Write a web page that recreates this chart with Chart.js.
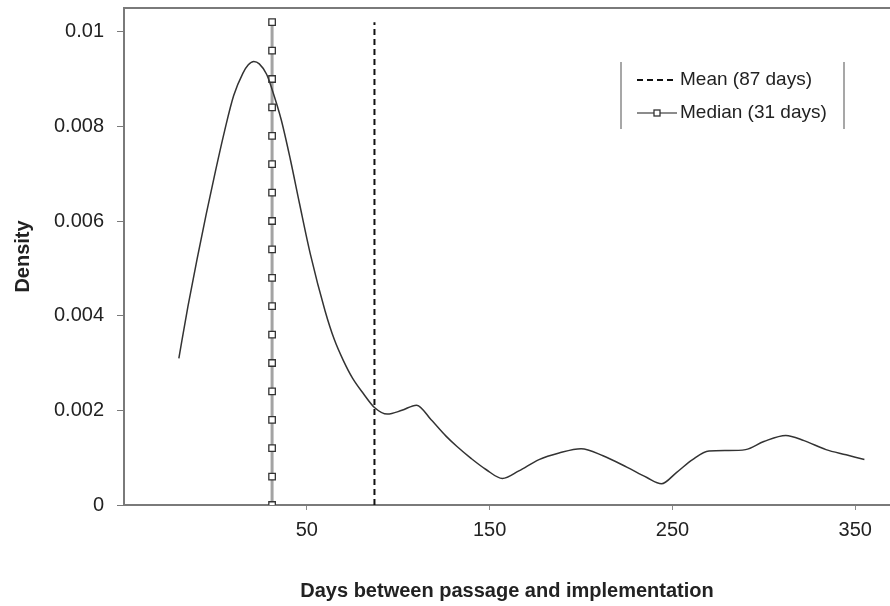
<!DOCTYPE html>
<html>
<head>
<meta charset="utf-8">
<script src="https://cdn.jsdelivr.net/npm/chart.js@4.4.1/dist/chart.umd.min.js"></script>
<style>
  body { margin: 0; background: #fff; overflow: hidden; }
  #wrap { width: 890px; height: 606px; position: relative; }
</style>
</head>
<body>
<div id="wrap"><canvas id="myChart"></canvas></div>
<script>
// density curve
const days = [-20, -15, -10, -5, 0, 5, 10, 15, 18, 21, 24, 28, 31, 36, 41, 46, 52, 60, 65, 70, 75, 81, 87, 94, 102, 110, 118, 126, 132, 140, 148, 157, 166, 177, 188, 200, 212, 225, 236, 244, 252, 261, 270, 280, 290, 300, 312, 322, 334, 345, 355];
const density = [0.0031, 0.0042, 0.0052, 0.00615, 0.00705, 0.0079, 0.00865, 0.00912, 0.0093, 0.00937, 0.00932, 0.0091, 0.00878, 0.00814, 0.0073, 0.00637, 0.00529, 0.0041, 0.0035, 0.00305, 0.00268, 0.00235, 0.00206, 0.00192, 0.002, 0.00211, 0.0018, 0.00146, 0.00124, 0.00098, 0.00075, 0.00056, 0.00072, 0.00096, 0.0011, 0.00119, 0.00104, 0.0008, 0.00058, 0.00045, 0.00068, 0.00096, 0.00114, 0.00115, 0.00117, 0.00134, 0.00147, 0.00136, 0.00117, 0.00106, 0.00096];

const xTicks = [50, 150, 250, 350];
const yTicks = [0, 0.002, 0.004, 0.006, 0.008, 0.01];
const yTickLabels = ['0', '0.002', '0.004', '0.006', '0.008', '0.01'];

const meanDay = 87;
const medianDay = 31;
const meanLine = [0, 0.0102];
const medianMarks = [0, 0.0006, 0.0012, 0.0018, 0.0024, 0.003, 0.0036, 0.0042, 0.0048, 0.0054, 0.006, 0.0066, 0.0072, 0.0078, 0.0084, 0.009, 0.0096, 0.0102];

const legendLabels = ['Mean (87 days)', 'Median (31 days)'];

const FONT = "'Liberation Sans', Arial, sans-serif";

// top border + legend box
const extras = {
  id: 'extras',
  afterDraw(chart) {
    const c = chart.ctx;
    const a = chart.chartArea;
    c.save();
    c.strokeStyle = '#7a7a7a';
    c.lineWidth = 2;
    c.beginPath();
    c.moveTo(a.left - 1, a.top);
    c.lineTo(a.right, a.top);
    c.stroke();

    // legend frame (only sides)
    c.strokeStyle = '#8a8a8a';
    c.lineWidth = 1.5;
    c.beginPath();
    c.moveTo(621, 62); c.lineTo(621, 129);
    c.moveTo(844, 62); c.lineTo(844, 129);
    c.stroke();

    // mean sample
    c.strokeStyle = '#111';
    c.lineWidth = 2;
    c.setLineDash([6, 4]);
    c.beginPath();
    c.moveTo(637, 80); c.lineTo(677, 80);
    c.stroke();
    c.setLineDash([]);

    // median sample
    c.strokeStyle = '#666';
    c.lineWidth = 1.5;
    c.beginPath();
    c.moveTo(637, 113); c.lineTo(677, 113);
    c.stroke();
    c.fillStyle = '#fff';
    c.strokeStyle = '#333';
    c.lineWidth = 1.3;
    c.fillRect(654, 110, 6, 6);
    c.strokeRect(654, 110, 6, 6);

    c.fillStyle = '#222';
    c.font = '19px ' + FONT;
    c.textBaseline = 'middle';
    c.textAlign = 'left';
    c.fillText(legendLabels[0], 680, 80);
    c.fillText(legendLabels[1], 680, 113);
    c.restore();
  }
};

var ctx = document.getElementById('myChart').getContext('2d');

var myChart = new Chart(ctx, {
  type: 'line',
  data: {
    datasets: [
      {
        label: 'Density',
        data: days.map((d, i) => ({ x: d, y: density[i] })),
        borderColor: '#333',
        borderWidth: 1.5,
        pointRadius: 0,
        cubicInterpolationMode: 'monotone',
        fill: false,
        order: 0
      },
      {
        label: legendLabels[0],
        data: meanLine.map(v => ({ x: meanDay, y: v })),
        borderColor: '#111',
        borderWidth: 2,
        borderDash: [6, 4],
        pointRadius: 0,
        order: 2
      },
      {
        label: legendLabels[1],
        data: medianMarks.map(v => ({ x: medianDay, y: v })),
        borderColor: '#a3a3a3',
        borderWidth: 3,
        pointStyle: 'rect',
        pointRadius: 4.6,
        pointBackgroundColor: '#fff',
        pointBorderColor: '#333',
        pointBorderWidth: 1.3,
        order: 1
      }
    ]
  },
  options: {
    responsive: true,
    maintainAspectRatio: false,
    animation: false,
    layout: { autoPadding: false, padding: { top: 8, right: 0, left: 0, bottom: 0 } },
    plugins: {
      legend: { display: false },
      tooltip: { enabled: false }
    },
    scales: {
      x: {
        type: 'linear',
        min: -50,
        max: 369,
        afterBuildTicks: s => { s.ticks = xTicks.map(v => ({ value: v })); },
        afterFit: s => { s.height = 101; s.paddingLeft = 0; s.paddingRight = 0; },
        grid: { drawOnChartArea: false, drawTicks: true, tickLength: 5, color: '#8a8a8a' },
        border: { display: true, color: '#7a7a7a', width: 2 },
        ticks: { color: '#222', font: { family: FONT, size: 20 }, padding: 8, maxRotation: 0 },
        title: {
          display: true,
          text: 'Days between passage and implementation',
          color: '#222',
          font: { family: FONT, size: 20, weight: 'bold' },
          padding: { top: 0, bottom: 3 }
        }
      },
      y: {
        min: 0,
        max: 0.0105,
        afterBuildTicks: s => { s.ticks = yTicks.map(v => ({ value: v })); },
        afterFit: s => { s.width = 124; s.paddingTop = 0; s.paddingBottom = 0; },
        grid: { drawOnChartArea: false, drawTicks: true, tickLength: 7, color: '#7a7a7a' },
        border: { display: true, color: '#7a7a7a', width: 2 },
        ticks: {
          color: '#222',
          font: { family: FONT, size: 20 },
          padding: 13,
          callback: (v, i) => yTickLabels[i]
        },
        title: {
          display: true,
          text: 'Density',
          color: '#222',
          font: { family: FONT, size: 20, weight: 'bold' },
          padding: { top: 11, bottom: 0 }
        }
      }
    }
  },
  plugins: [extras]
});
</script>
</body>
</html>
